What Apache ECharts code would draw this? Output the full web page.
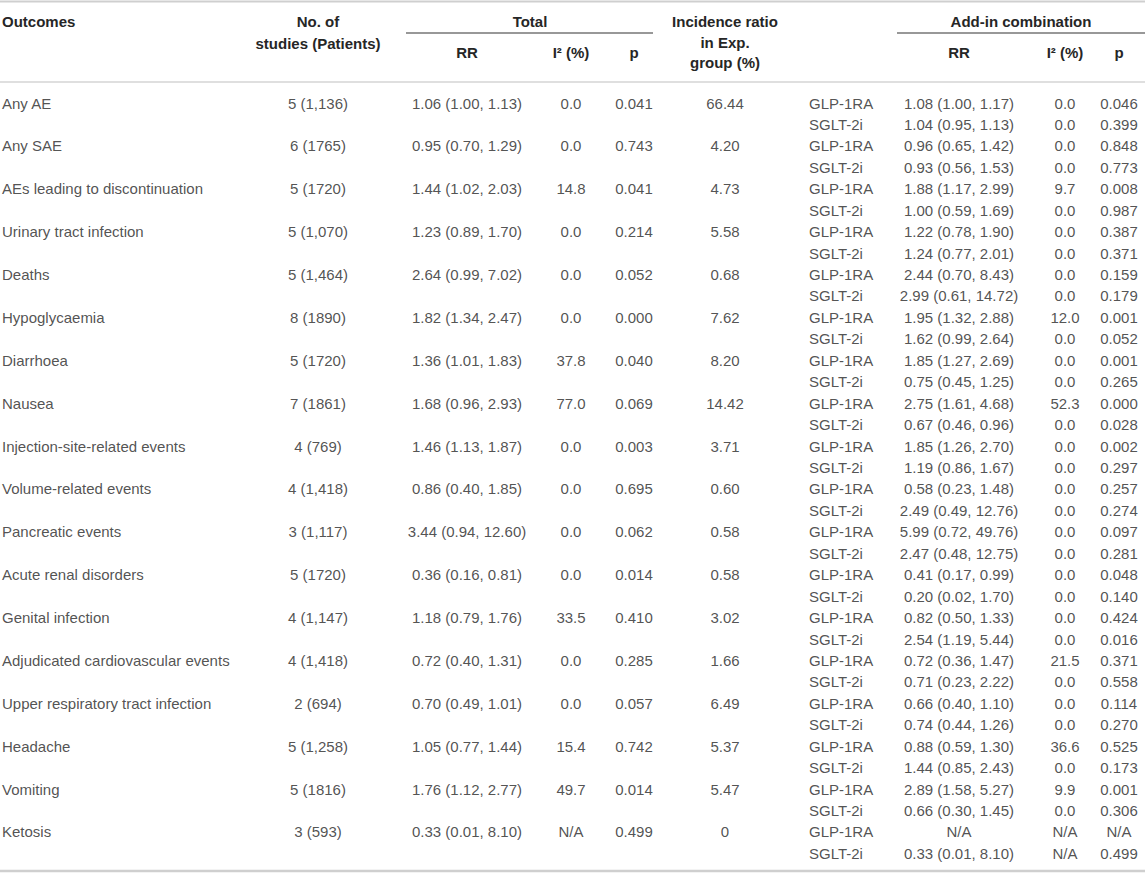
<!DOCTYPE html>
<html>
<head>
<meta charset="utf-8">
<script src="https://cdn.jsdelivr.net/npm/echarts/dist/echarts.min.js"></script>
<style>
html, body { margin: 0; padding: 0; background: #fff; }
#view { width: 1145px; height: 873px; }
</style>
</head>
<body>
<div id="view"></div>
<script>
var outcomes = ['Any AE', 'Any SAE', 'AEs leading to discontinuation', 'Urinary tract infection', 'Deaths',
    'Hypoglycaemia', 'Diarrhoea', 'Nausea', 'Injection-site-related events', 'Volume-related events',
    'Pancreatic events', 'Acute renal disorders', 'Genital infection', 'Adjudicated cardiovascular events',
    'Upper respiratory tract infection', 'Headache', 'Vomiting', 'Ketosis'];
var studies = ['5 (1,136)', '6 (1765)', '5 (1720)', '5 (1,070)', '5 (1,464)', '8 (1890)', '5 (1720)', '7 (1861)',
    '4 (769)', '4 (1,418)', '3 (1,117)', '5 (1720)', '4 (1,147)', '4 (1,418)', '2 (694)', '5 (1,258)', '5 (1816)', '3 (593)'];
var totalRR = ['1.06 (1.00, 1.13)', '0.95 (0.70, 1.29)', '1.44 (1.02, 2.03)', '1.23 (0.89, 1.70)', '2.64 (0.99, 7.02)',
    '1.82 (1.34, 2.47)', '1.36 (1.01, 1.83)', '1.68 (0.96, 2.93)', '1.46 (1.13, 1.87)', '0.86 (0.40, 1.85)',
    '3.44 (0.94, 12.60)', '0.36 (0.16, 0.81)', '1.18 (0.79, 1.76)', '0.72 (0.40, 1.31)', '0.70 (0.49, 1.01)',
    '1.05 (0.77, 1.44)', '1.76 (1.12, 2.77)', '0.33 (0.01, 8.10)'];
var totalI2 = ['0.0', '0.0', '14.8', '0.0', '0.0', '0.0', '37.8', '77.0', '0.0', '0.0', '0.0', '0.0', '33.5', '0.0', '0.0', '15.4', '49.7', 'N/A'];
var totalP = ['0.041', '0.743', '0.041', '0.214', '0.052', '0.000', '0.040', '0.069', '0.003', '0.695', '0.062', '0.014',
    '0.410', '0.285', '0.057', '0.742', '0.014', '0.499'];
var incidence = ['66.44', '4.20', '4.73', '5.58', '0.68', '7.62', '8.20', '14.42', '3.71', '0.60', '0.58', '0.58',
    '3.02', '1.66', '6.49', '5.37', '5.47', '0'];
var treatments = ['GLP-1RA', 'SGLT-2i'];
var glpRR = ['1.08 (1.00, 1.17)', '0.96 (0.65, 1.42)', '1.88 (1.17, 2.99)', '1.22 (0.78, 1.90)', '2.44 (0.70, 8.43)',
    '1.95 (1.32, 2.88)', '1.85 (1.27, 2.69)', '2.75 (1.61, 4.68)', '1.85 (1.26, 2.70)', '0.58 (0.23, 1.48)',
    '5.99 (0.72, 49.76)', '0.41 (0.17, 0.99)', '0.82 (0.50, 1.33)', '0.72 (0.36, 1.47)', '0.66 (0.40, 1.10)',
    '0.88 (0.59, 1.30)', '2.89 (1.58, 5.27)', 'N/A'];
var glpI2 = ['0.0', '0.0', '9.7', '0.0', '0.0', '12.0', '0.0', '52.3', '0.0', '0.0', '0.0', '0.0', '0.0', '21.5', '0.0', '36.6', '9.9', 'N/A'];
var glpP = ['0.046', '0.848', '0.008', '0.387', '0.159', '0.001', '0.001', '0.000', '0.002', '0.257', '0.097', '0.048',
    '0.424', '0.371', '0.114', '0.525', '0.001', 'N/A'];
var sgltRR = ['1.04 (0.95, 1.13)', '0.93 (0.56, 1.53)', '1.00 (0.59, 1.69)', '1.24 (0.77, 2.01)', '2.99 (0.61, 14.72)',
    '1.62 (0.99, 2.64)', '0.75 (0.45, 1.25)', '0.67 (0.46, 0.96)', '1.19 (0.86, 1.67)', '2.49 (0.49, 12.76)',
    '2.47 (0.48, 12.75)', '0.20 (0.02, 1.70)', '2.54 (1.19, 5.44)', '0.71 (0.23, 2.22)', '0.74 (0.44, 1.26)',
    '1.44 (0.85, 2.43)', '0.66 (0.30, 1.45)', '0.33 (0.01, 8.10)'];
var sgltI2 = ['0.0', '0.0', '0.0', '0.0', '0.0', '0.0', '0.0', '0.0', '0.0', '0.0', '0.0', '0.0', '0.0', '0.0', '0.0', '0.0', '0.0', 'N/A'];
var sgltP = ['0.399', '0.773', '0.987', '0.371', '0.179', '0.052', '0.265', '0.028', '0.297', '0.274', '0.281', '0.140',
    '0.016', '0.558', '0.270', '0.173', '0.306', '0.499'];

// layout (pixels)
var W = 1145, H = 873;
var rowH = 21.44, bodyTop = 92.28;
var font = '"Liberation Sans", Arial, sans-serif';
var textColor = '#262626';

// one sub-row per treatment for every outcome
var rowKeys = [];
outcomes.forEach(function (o) {
    treatments.forEach(function (t) { rowKeys.push(o + ' | ' + t); });
});

// column centres (or left edge when align = left)
var columns = [
    { name: 'outcome', x: 2, align: 'left', cells: function (i, t) { return t === 0 ? outcomes[i] : null; } },
    { name: 'studies', x: 318, cells: function (i, t) { return t === 0 ? studies[i] : null; } },
    { name: 'totalRR', x: 467, cells: function (i, t) { return t === 0 ? totalRR[i] : null; } },
    { name: 'totalI2', x: 571, cells: function (i, t) { return t === 0 ? totalI2[i] : null; } },
    { name: 'totalP', x: 634, cells: function (i, t) { return t === 0 ? totalP[i] : null; } },
    { name: 'incidence', x: 725, cells: function (i, t) { return t === 0 ? incidence[i] : null; } },
    { name: 'treatment', x: 809, align: 'left', cells: function (i, t) { return treatments[t]; } },
    { name: 'addRR', x: 959, cells: function (i, t) { return t === 0 ? glpRR[i] : sgltRR[i]; } },
    { name: 'addI2', x: 1065, cells: function (i, t) { return t === 0 ? glpI2[i] : sgltI2[i]; } },
    { name: 'addP', x: 1119, cells: function (i, t) { return t === 0 ? glpP[i] : sgltP[i]; } }
];

var series = columns.map(function (col) {
    var data = [];
    outcomes.forEach(function (o, i) {
        treatments.forEach(function (tr, t) {
            var txt = col.cells(i, t);
            if (txt !== null) data.push({ name: txt, value: [col.x, rowKeys[i * 2 + t]] });
        });
    });
    return {
        type: 'scatter',
        name: col.name,
        symbolSize: 0,
        itemStyle: { color: 'rgba(0,0,0,0)' },
        silent: true,
        label: {
            show: true,
            position: col.align === 'left' ? 'right' : 'inside',
            distance: 0,
            formatter: '{b}',
            color: textColor,
            fontSize: 15,
            fontFamily: font
        },
        data: data
    };
});

function colX(name) {
    return columns.filter(function (c) { return c.name === name; })[0].x;
}

// header texts
var headers = [
    { text: 'Outcomes', x: 2, y: 21, align: 'left' },
    { text: 'No. of', x: colX('studies'), y: 21 },
    { text: 'studies (Patients)', x: colX('studies'), y: 43 },
    { text: 'Total', x: 530, y: 21 },
    { text: 'RR', x: colX('totalRR'), y: 52 },
    { text: 'I\u00b2 (%)', x: colX('totalI2'), y: 52 },
    { text: 'p', x: colX('totalP'), y: 52 },
    { text: 'Incidence ratio', x: colX('incidence'), y: 21 },
    { text: 'in Exp.', x: colX('incidence'), y: 42 },
    { text: 'group (%)', x: colX('incidence'), y: 62 },
    { text: 'Add-in combination', x: 1021, y: 21 },
    { text: 'RR', x: colX('addRR'), y: 52 },
    { text: 'I\u00b2 (%)', x: colX('addI2'), y: 52 },
    { text: 'p', x: colX('addP'), y: 52 }
];

var graphics = headers.map(function (h) {
    return {
        type: 'text',
        silent: true,
        style: {
            text: h.text,
            x: h.x,
            y: h.y,
            textAlign: h.align || 'center',
            textVerticalAlign: 'middle',
            font: 'bold 15px ' + font,
            fill: textColor
        }
    };
});

var rules = [
    { x1: 0, x2: W, y: 1.5, w: 2, c: '#cfcfcf' },
    { x1: 406, x2: 653, y: 33, w: 1.2, c: '#333' },
    { x1: 897, x2: W, y: 33, w: 1.2, c: '#333' },
    { x1: 0, x2: W, y: 82, w: 1.5, c: '#d4d4d4' },
    { x1: 0, x2: W, y: 871, w: 2.5, c: '#cfcfcf' }
];
rules.forEach(function (r) {
    graphics.push({
        type: 'line',
        silent: true,
        shape: { x1: r.x1, y1: r.y, x2: r.x2, y2: r.y },
        style: { stroke: r.c, lineWidth: r.w }
    });
});

var myChart = echarts.init(document.getElementById('view'), null, { renderer: 'svg' });
var option = {
    animation: false,
    backgroundColor: '#fff',
    grid: { left: 0, right: 0, top: bodyTop, height: rowH * rowKeys.length, containLabel: false },
    xAxis: { type: 'value', min: 0, max: W, show: false },
    yAxis: { type: 'category', data: rowKeys, inverse: true, show: false },
    graphic: graphics,
    series: series
};
myChart.setOption(option);
</script>
</body>
</html>
